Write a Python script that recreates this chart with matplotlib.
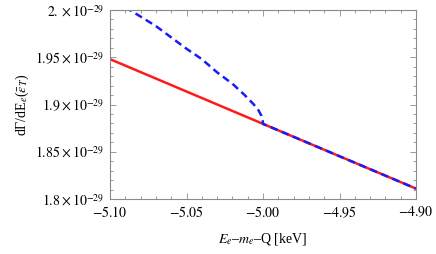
import matplotlib
matplotlib.use("Agg")
import matplotlib.pyplot as plt
from matplotlib.ticker import FixedLocator, MultipleLocator, FixedFormatter

plt.rcParams["font.family"] = ["Liberation Serif", "DejaVu Serif"]
plt.rcParams["mathtext.fontset"] = "stix"

# data in units of 1e-29
red_x = [-5.10, -4.90]
red_y = [1.948, 1.811]

blue_x = [-5.090, -5.080, -5.070, -5.060, -5.050, -5.040, -5.030, -5.020,
          -5.012, -5.006, -5.003, -5.001, -5.0002, -5.000, -4.90]
blue_y = [2.003, 1.993, 1.983, 1.971, 1.959, 1.948, 1.934, 1.922,
          1.910, 1.900, 1.894, 1.888, 1.8836, 1.8795, 1.811]

x_ticks = [-5.10, -5.05, -5.00, -4.95, -4.90]
x_labels = ["$-5.10$", "$-5.05$", "$-5.00$", "$-4.95$", "$-4.90$"]
y_ticks = [1.80, 1.85, 1.90, 1.95, 2.00]
y_labels = [r"$1.8\times10^{-29}$", r"$1.85\times10^{-29}$", r"$1.9\times10^{-29}$",
            r"$1.95\times10^{-29}$", r"$2.\times10^{-29}$"]

fig = plt.figure(figsize=(4.36, 2.54), dpi=100)
ax = fig.add_axes([110 / 436, 1 - 199 / 254, 306 / 436, 189 / 254])

ax.plot(red_x, red_y, color="#ff1a1a", lw=1.8, solid_capstyle="butt")
ax.plot(blue_x, blue_y, color="#1a1aff", lw=1.8, ls=(0, (3.0, 1.8)))

ax.set_xlim(-5.10, -4.90)
ax.set_ylim(1.80, 2.00)

ax.xaxis.set_major_locator(FixedLocator(x_ticks))
ax.xaxis.set_major_formatter(FixedFormatter(x_labels))
ax.xaxis.set_minor_locator(MultipleLocator(0.01))
ax.yaxis.set_major_locator(FixedLocator(y_ticks))
ax.yaxis.set_major_formatter(FixedFormatter(y_labels))
ax.yaxis.set_minor_locator(MultipleLocator(0.01))

frame = "#8a8a8a"
for s in ax.spines.values():
    s.set_color(frame)
    s.set_linewidth(0.8)
ax.tick_params(which="both", direction="in", top=True, right=True,
               color=frame, width=0.6, labelsize=10, pad=4)
ax.tick_params(which="major", length=4)
ax.tick_params(which="minor", length=2.2)

ax.set_xlabel(r"$E_e$–$m_e$–Q [keV]", fontsize=10, labelpad=8)
ax.set_ylabel(r"dΓ/dE$_e$($\bar{\epsilon}_T$)", fontsize=10, labelpad=3)

fig.savefig("out.png", dpi=100)
